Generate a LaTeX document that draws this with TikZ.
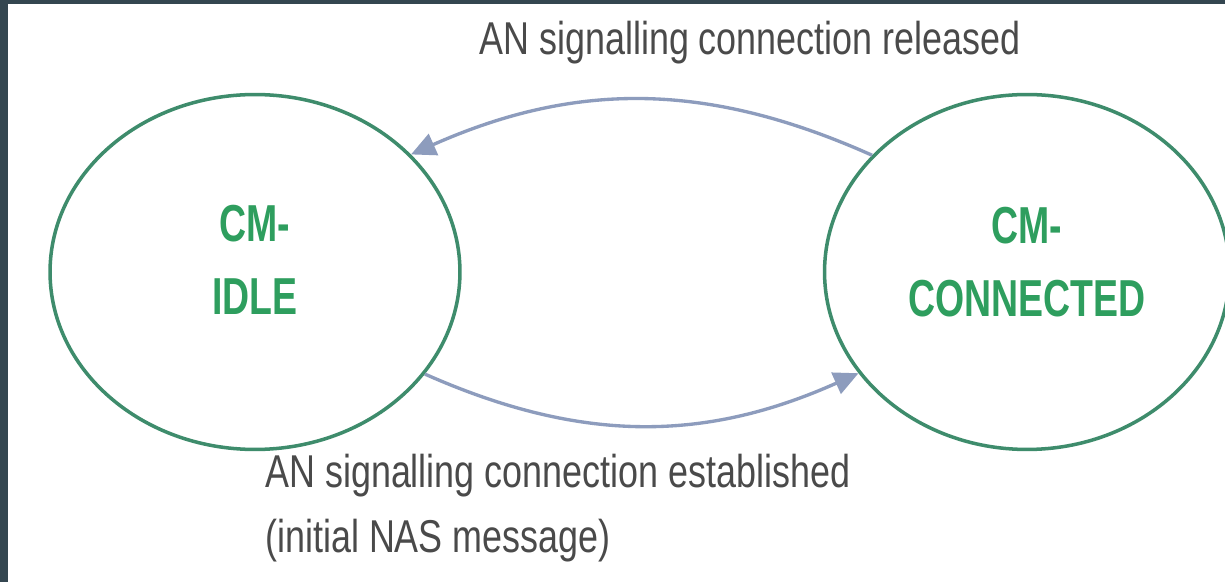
\documentclass[tikz,border=0pt]{standalone}
\usepackage{fontspec}
\setmainfont{Liberation Sans}
\newfontfamily\lblfont[FakeStretch=0.78]{Liberation Sans}
\newfontfamily\statefont[FakeStretch=0.72]{Liberation Sans}
\usetikzlibrary{shapes.geometric,arrows.meta}

\definecolor{framedark}{HTML}{344650}
\definecolor{stateline}{HTML}{3E8C6C}
\definecolor{stategreen}{HTML}{2E9E5E}
\definecolor{transblue}{HTML}{8D9CBD}
\definecolor{lblgray}{HTML}{4A4A4A}

\begin{document}
\begin{tikzpicture}[x=0.02cm,y=0.02cm,
    state/.style={draw=stateline,line width=2pt,ellipse,inner sep=0pt},
    statetext/.style={text=stategreen,font=\statefont\bfseries\fontsize{29.6}{41.5}\selectfont,align=center,inner sep=0pt},
    trans/.style={draw=transblue,line width=1.9pt,-{Triangle[length=14pt,width=13pt]}},
    lbl/.style={text=lblgray,font=\lblfont\fontsize{26.2}{37}\selectfont,inner sep=0pt}]
    \useasboundingbox (0,0) rectangle (1225,582);
    \fill [white] (0,0) rectangle (1225,582);
    \fill [framedark] (0,0) rectangle (8,582);
    \fill [framedark] (0,578) rectangle (1225,582);

    % the two states
    \node [state,minimum width=8.2cm,minimum height=7.1cm] (idle) at (255,310) {};
    \node [state,minimum width=8.1cm,minimum height=7.1cm] (conn) at (1027,310) {};
    \node [statetext] (idletxt) at (255,322) {CM-\\IDLE};
    \node [statetext] (conntxt) at (1027,320) {CM-\\CONNECTED};

    % transitions
    \draw [trans] (conn.143) to [bend right=24] (idle.37);
    \draw [trans] (idle.-31) to [bend right=24] (conn.211);

    \node [lbl,anchor=base] (reltxt) at (750,527) {AN signalling connection released};
    \node [lbl,anchor=north west,align=left] (esttxt) at (265,128) {AN signalling connection established\\(initial NAS message)};
\end{tikzpicture}
\end{document}
